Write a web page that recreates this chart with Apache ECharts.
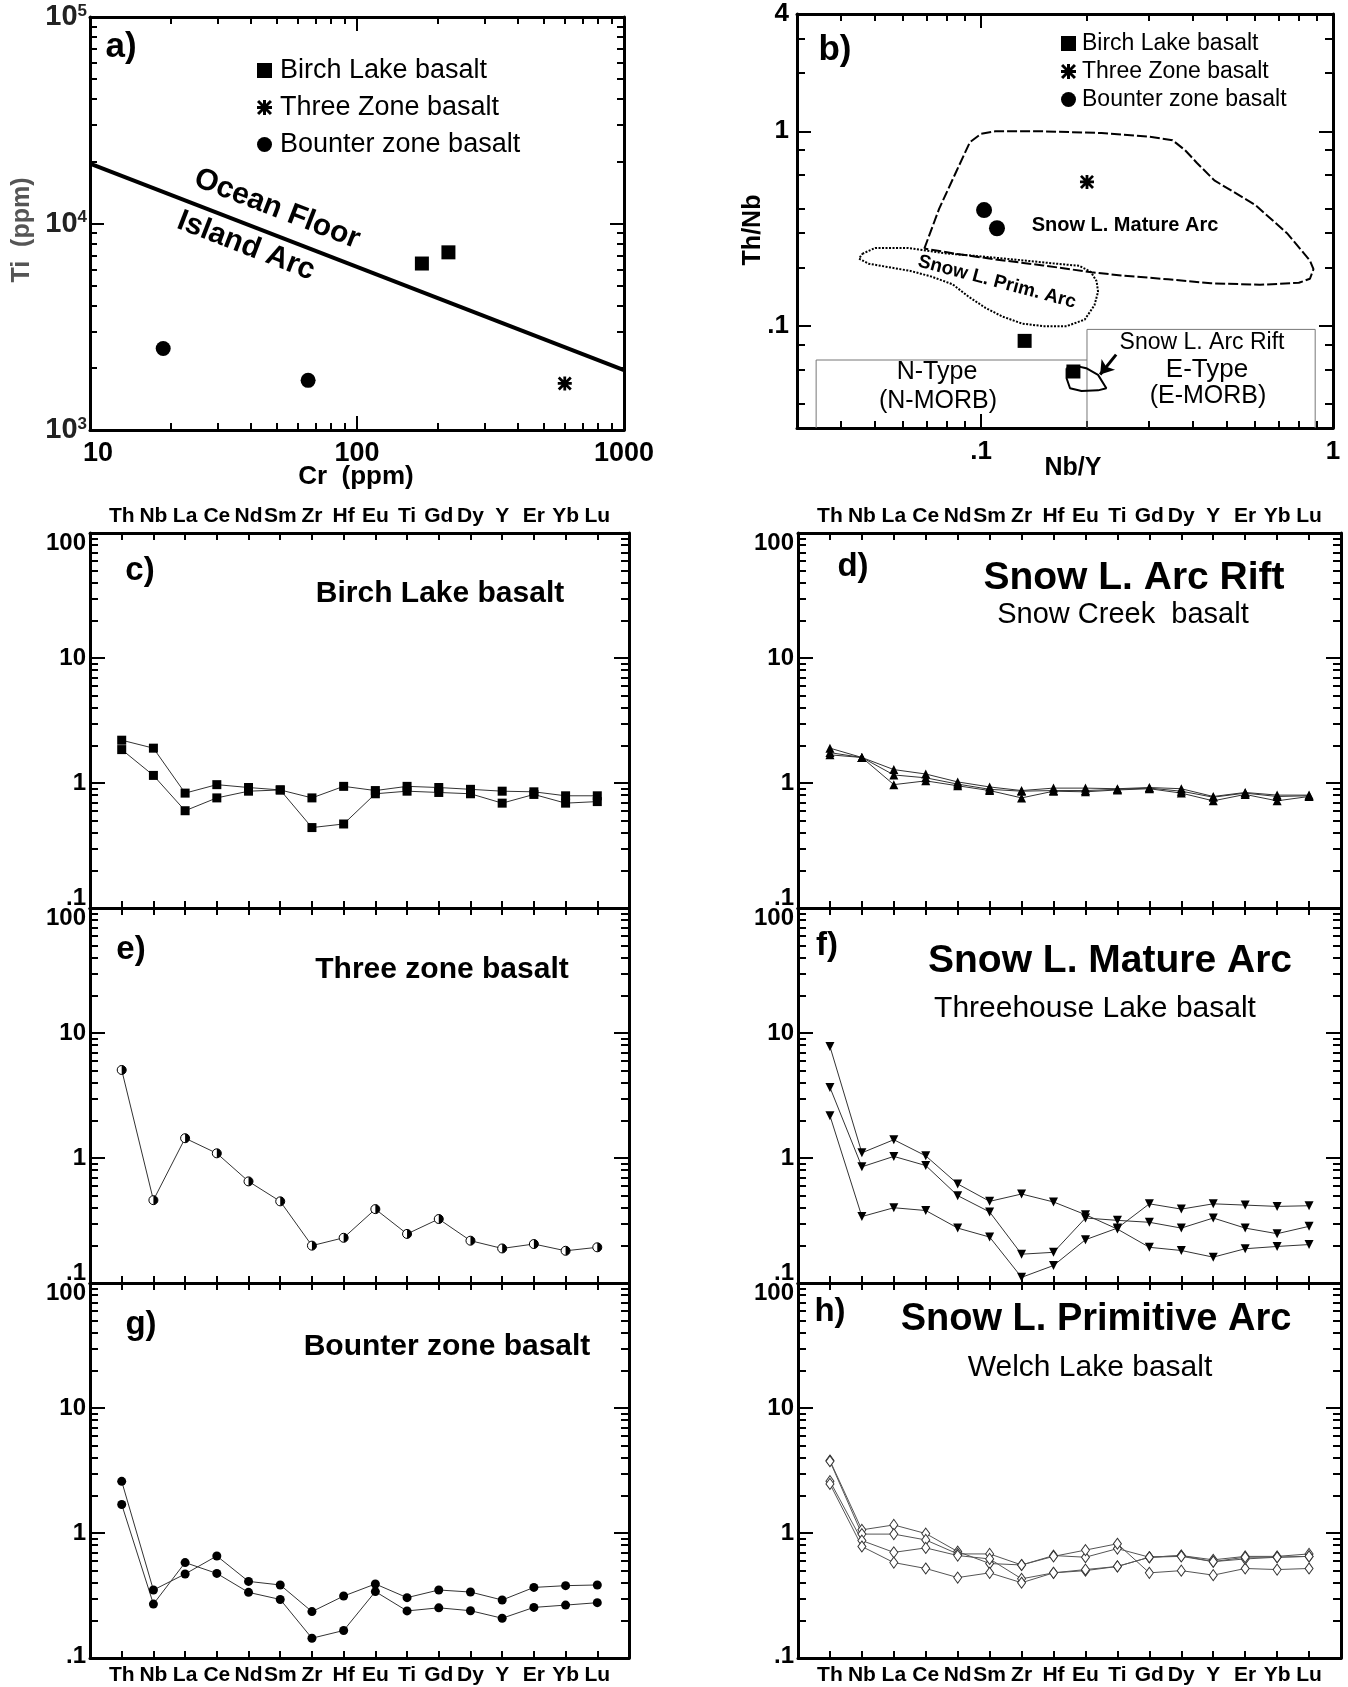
<!DOCTYPE html>
<html>
<head>
<meta charset="utf-8">
<title>Basalt discrimination and spider diagrams</title>
<script src="https://cdn.jsdelivr.net/npm/echarts@6/dist/echarts.min.js"></script>
<style>
  html, body { margin: 0; padding: 0; background: #fff; }
  #chart { width: 1348px; height: 1687px; }
</style>
</head>
<body>
<div id="chart"></div>
<script>
// ---------- data ----------
const elements = ['Th', 'Nb', 'La', 'Ce', 'Nd', 'Sm', 'Zr', 'Hf', 'Eu', 'Ti', 'Gd', 'Dy', 'Y', 'Er', 'Yb', 'Lu'];

// a) Ti (ppm) vs Cr (ppm)
const aBirchCr = [175, 220];
const aBirchTi = [6400, 7250];
const aThreeCr = [600];
const aThreeTi = [1680];
const aBounterCr = [18.8, 65.6];
const aBounterTi = [2480, 1740];
const aBoundaryCr = [10, 1000];
const aBoundaryTi = [19500, 1950];

// b) Th/Nb vs Nb/Y
const bBirchNbY = [0.133, 0.183];
const bBirchThNb = [0.084, 0.0585];
const bThreeNbY = [0.2];
const bThreeThNb = [0.55];
const bBounterNbY = [0.102, 0.111];
const bBounterThNb = [0.394, 0.318];

// fields in b) as [Nb/Y, Th/Nb]
const matureArcField = [[0.069, 0.25], [0.076, 0.4], [0.085, 0.62], [0.093, 0.88], [0.1, 0.97], [0.11, 1.0], [0.15, 1.0],
  [0.22, 0.98], [0.3, 0.94], [0.35, 0.9], [0.38, 0.8], [0.41, 0.69], [0.46, 0.56], [0.6, 0.42], [0.74, 0.3], [0.86, 0.217],
  [0.88, 0.196], [0.86, 0.175], [0.8, 0.167], [0.62, 0.163], [0.45, 0.166], [0.34, 0.174], [0.25, 0.182], [0.206, 0.189],
  [0.15, 0.205], [0.11, 0.22], [0.085, 0.235], [0.069, 0.25]];
const primArcField = [[0.046, 0.235], [0.05, 0.252], [0.062, 0.252], [0.08, 0.236], [0.1, 0.228], [0.13, 0.218], [0.16, 0.21],
  [0.19, 0.204], [0.205, 0.19], [0.213, 0.17], [0.215, 0.15], [0.21, 0.128], [0.197, 0.108], [0.175, 0.1], [0.15, 0.1],
  [0.131, 0.103], [0.115, 0.112], [0.103, 0.124], [0.092, 0.142], [0.083, 0.164], [0.072, 0.18], [0.063, 0.192],
  [0.048, 0.209], [0.045, 0.222], [0.046, 0.235]];
const arcRiftField = [[0.175, 0.0608], [0.186, 0.0625], [0.199, 0.0608], [0.215, 0.0562], [0.227, 0.048], [0.215, 0.0468],
  [0.193, 0.0465], [0.179, 0.048], [0.175, 0.054], [0.175, 0.0608]];
const arcRiftArrow = [[0.242, 0.0714], [0.218, 0.0565]];
const nTypeBox = [[0.034, 0.03], [0.034, 0.067], [0.2, 0.067]];
const eTypeBox = [[0.2, 0.03], [0.2, 0.0962], [0.89, 0.0962], [0.89, 0.03]];

// c) Birch Lake basalt
const cBirch1 = [2.2, 1.9, 0.83, 0.97, 0.92, 0.88, 0.76, 0.94, 0.87, 0.94, 0.92, 0.89, 0.86, 0.85, 0.79, 0.79];
const cBirch2 = [1.85, 1.15, 0.6, 0.76, 0.86, 0.88, 0.44, 0.47, 0.82, 0.86, 0.84, 0.82, 0.69, 0.81, 0.69, 0.71];
// d) Snow Creek basalt
const dSnow1 = [1.9, 1.6, 1.28, 1.18, 1.02, 0.93, 0.87, 0.91, 0.91, 0.9, 0.92, 0.9, 0.78, 0.84, 0.8, 0.8];
const dSnow2 = [1.75, 1.6, 1.16, 1.1, 0.98, 0.89, 0.86, 0.87, 0.87, 0.89, 0.91, 0.86, 0.77, 0.83, 0.78, 0.79];
const dSnow3 = [1.68, 1.6, 0.97, 1.04, 0.95, 0.87, 0.76, 0.86, 0.85, 0.88, 0.9, 0.83, 0.72, 0.81, 0.72, 0.78];
// e) Three zone basalt
const eThree = [5.06, 0.46, 1.44, 1.09, 0.65, 0.45, 0.199, 0.23, 0.39, 0.247, 0.325, 0.218, 0.189, 0.205, 0.181, 0.193];
// f) Threehouse Lake basalt
const fThree1 = [7.8, 1.1, 1.4, 1.04, 0.62, 0.45, 0.515, 0.445, 0.352, 0.27, 0.193, 0.182, 0.161, 0.188, 0.196, 0.203];
const fThree2 = [3.67, 0.85, 1.03, 0.87, 0.5, 0.37, 0.17, 0.176, 0.331, 0.317, 0.306, 0.275, 0.331, 0.275, 0.248, 0.284];
const fThree3 = [2.18, 0.34, 0.4, 0.38, 0.275, 0.233, 0.111, 0.138, 0.222, 0.275, 0.43, 0.39, 0.43, 0.42, 0.41, 0.415];
// g) Bounter zone basalt
const gBounter1 = [2.59, 0.35, 0.47, 0.655, 0.41, 0.384, 0.235, 0.313, 0.391, 0.304, 0.35, 0.337, 0.291, 0.367, 0.379, 0.384];
const gBounter2 = [1.69, 0.27, 0.58, 0.475, 0.335, 0.294, 0.144, 0.166, 0.34, 0.238, 0.252, 0.239, 0.208, 0.254, 0.265, 0.277];
// h) Welch Lake basalt
const hWelch1 = [3.8, 1.06, 1.16, 0.99, 0.71, 0.57, 0.555, 0.66, 0.64, 0.75, 0.64, 0.66, 0.61, 0.65, 0.65, 0.68];
const hWelch2 = [3.75, 0.98, 0.98, 0.88, 0.68, 0.68, 0.555, 0.65, 0.73, 0.82, 0.48, 0.5, 0.46, 0.52, 0.51, 0.52];
const hWelch3 = [2.6, 0.87, 0.7, 0.76, 0.66, 0.62, 0.43, 0.48, 0.5, 0.54, 0.64, 0.66, 0.59, 0.62, 0.64, 0.65];
const hWelch4 = [2.47, 0.78, 0.58, 0.52, 0.44, 0.48, 0.4, 0.48, 0.51, 0.54, 0.64, 0.65, 0.59, 0.64, 0.64, 0.65];

// ---------- helpers ----------
const FONT = '"Liberation Sans", Arial, Helvetica, sans-serif';
const STAR = 'path://M4,0 H6 V10 H4 Z M0,4 H10 V6 H0 Z M1.4,0 L10,8.6 L8.6,10 L0,1.4 Z M8.6,0 L10,1.4 L1.4,10 L0,8.6 Z';
const HALF = 'path://M5,0 A5,5 0 0,1 5,10 Z M0,5 L0.2,5.2 L0,5.4 Z';

const chart = echarts.init(document.getElementById('chart'));
const grids = [], xAxes = [], yAxes = [], series = [], graphics = [];

function logTicks(lo, hi, ks) {
  const out = [];
  for (let e = Math.floor(Math.log10(lo)); e <= Math.ceil(Math.log10(hi)); e++) {
    for (const k of ks) {
      const v = Number((k * Math.pow(10, e)).toPrecision(8));
      if (v >= lo * 0.999 && v <= hi * 1.001) out.push(v);
    }
  }
  return out;
}
const MINOR = [2, 3, 4, 5, 6, 7, 8, 9];
const pairs = (xs, ys) => xs.map((x, i) => [x, ys[i]]);
const solid = { color: '#000', opacity: 1 };

function addAxis(list, gi, pos, sc, ticks, len, withLine, label) {
  const ax = {
    gridIndex: gi, type: sc.type, position: pos, min: sc.min, max: sc.max,
    axisLine: { show: withLine, onZero: false, lineStyle: { color: '#000', width: 3 } },
    axisTick: { show: ticks.length > 0, inside: true, length: len, customValues: ticks, lineStyle: { color: '#000', width: 2 } },
    axisLabel: label ? Object.assign({ show: true, fontFamily: FONT, color: '#000', fontWeight: 'bold' }, label) : { show: false },
    splitLine: { show: false }, minorTick: { show: false }, minorSplitLine: { show: false },
    axisPointer: { show: false }, silent: true
  };
  if (sc.type === 'log') ax.logBase = 10;
  list.push(ax);
  return list.length - 1;
}

function addPanel(box, xs, ys) {
  const gi = grids.push({ left: box[0], top: box[1], width: box[2], height: box[3],
    containLabel: false, outerBoundsMode: 'none' }) - 1;
  const xi = addAxis(xAxes, gi, 'bottom', xs, xs.major, xs.majorLen, true, xs.bottomLabel);
  if (xs.minor.length) addAxis(xAxes, gi, 'bottom', xs, xs.minor, xs.minorLen, false);
  addAxis(xAxes, gi, 'top', xs, xs.major, xs.majorLen, true, xs.topLabel);
  if (xs.minor.length) addAxis(xAxes, gi, 'top', xs, xs.minor, xs.minorLen, false);
  const yi = addAxis(yAxes, gi, 'left', ys, ys.major, ys.majorLen, true, ys.leftLabel);
  addAxis(yAxes, gi, 'left', ys, ys.minor, ys.minorLen, false);
  addAxis(yAxes, gi, 'right', ys, ys.major, ys.majorLen, true);
  addAxis(yAxes, gi, 'right', ys, ys.minor, ys.minorLen, false);
  return { xi, yi };
}

function text(t, x, y, font, opts) {
  graphics.push(Object.assign({
    type: 'text', x, y, z: 100, silent: true,
    style: { text: t, font: font + ' ' + FONT, fill: (opts && opts.fill) || '#000',
      textAlign: 'center', textVerticalAlign: 'middle', align: 'center', verticalAlign: 'middle' }
  }, opts && opts.rotation !== undefined ? { rotation: opts.rotation } : {}));
}

// ---------- a) Ti vs Cr ----------
const aTick = { fontSize: 27, fontWeight: 'bold', fontFamily: FONT, color: '#000' };
const pa = addPanel([90, 17, 534, 413],
  { type: 'log', min: 10, max: 1000, major: logTicks(10, 1000, [1]), minor: logTicks(10, 1000, MINOR), majorLen: 14, minorLen: 7,
    bottomLabel: { customValues: [10, 100, 1000], margin: 10,
      formatter: v => (v < 50 ? '{first|10}' : '{n|' + Math.round(v) + '}'),
      rich: { n: aTick, first: Object.assign({ padding: [0, 0, 0, 16] }, aTick) } } },
  { type: 'log', min: 1000, max: 100000, major: logTicks(1000, 100000, [1]), minor: logTicks(1000, 100000, MINOR), majorLen: 14, minorLen: 7,
    leftLabel: { customValues: [1000, 10000, 100000], margin: 3,
      formatter: v => '{b|10}{s|' + Math.round(Math.log10(v)) + '}',
      rich: { b: { fontSize: 29, fontWeight: 'bold', fontFamily: FONT, color: '#222', verticalAlign: 'bottom' },
              s: { fontSize: 17, fontFamily: FONT, color: '#222', verticalAlign: 'top' } } } });

series.push({ type: 'line', xAxisIndex: pa.xi, yAxisIndex: pa.yi, data: pairs(aBoundaryCr, aBoundaryTi),
  symbol: 'none', lineStyle: { color: '#000', width: 4 }, z: 2 });
series.push({ name: 'Birch Lake basalt', type: 'scatter', xAxisIndex: pa.xi, yAxisIndex: pa.yi,
  data: pairs(aBirchCr, aBirchTi), symbol: 'rect', symbolSize: 14, itemStyle: solid, z: 3 });
series.push({ name: 'Three Zone basalt', type: 'scatter', xAxisIndex: pa.xi, yAxisIndex: pa.yi,
  data: pairs(aThreeCr, aThreeTi), symbol: STAR, symbolSize: 14, itemStyle: solid, z: 3 });
series.push({ name: 'Bounter zone basalt', type: 'scatter', xAxisIndex: pa.xi, yAxisIndex: pa.yi,
  data: pairs(aBounterCr, aBounterTi), symbol: 'circle', symbolSize: 15, itemStyle: solid, z: 3 });

text('a)', 121, 47, 'bold 35px');
text('Ocean Floor', 277, 209, 'bold 30px', { rotation: -0.37 });
text('Island Arc', 246, 246, 'bold 30px', { rotation: -0.37 });
text('Ti  (ppm)', 22, 230, 'bold 25px', { rotation: Math.PI / 2, fill: '#555' });
text('Cr  (ppm)', 356, 477, 'bold 26px');

// ---------- b) Th/Nb vs Nb/Y ----------
const pb = addPanel([797, 14, 536, 414],
  { type: 'log', min: 0.03, max: 1, major: [0.1, 1], minor: logTicks(0.03, 1, MINOR), majorLen: 14, minorLen: 7,
    bottomLabel: { customValues: [0.1, 1], formatter: v => (v > 0.5 ? '1' : '.1'), fontSize: 26, margin: 11 } },
  { type: 'log', min: 0.03, max: 4, major: [0.1, 1], minor: [0.04, 0.06, 0.08, 0.2, 0.3, 0.4, 0.6, 0.8, 2, 3, 4], majorLen: 14, minorLen: 8,
    leftLabel: { customValues: [0.1, 1, 4], formatter: v => (v > 2 ? '4' : v > 0.5 ? '1' : '.1'), fontSize: 26, margin: 8 } });

const fieldLine = (data, style) => ({ type: 'line', xAxisIndex: pb.xi, yAxisIndex: pb.yi, data, symbol: 'none',
  showSymbol: false, lineStyle: Object.assign({ color: '#000' }, style), z: 2 });
series.push(fieldLine(nTypeBox, { color: '#777', width: 1 }));
series.push(fieldLine(eTypeBox, { color: '#777', width: 1 }));
series.push(fieldLine(matureArcField, { width: 2, type: [10, 3] }));
series.push(fieldLine(primArcField, { width: 2, type: [2, 1.5] }));
const rift = fieldLine(arcRiftField, { width: 2 });
rift.markLine = { silent: true, symbol: ['none', 'arrow'], symbolSize: 13, label: { show: false },
  lineStyle: { color: '#000', width: 3, type: 'solid' },
  data: [[{ coord: arcRiftArrow[0] }, { coord: arcRiftArrow[1] }]] };
series.push(rift);

series.push({ name: 'Birch Lake basalt', type: 'scatter', xAxisIndex: pb.xi, yAxisIndex: pb.yi,
  data: pairs(bBirchNbY, bBirchThNb), symbol: 'rect', symbolSize: 14, itemStyle: solid, z: 3 });
series.push({ name: 'Three Zone basalt', type: 'scatter', xAxisIndex: pb.xi, yAxisIndex: pb.yi,
  data: pairs(bThreeNbY, bThreeThNb), symbol: STAR, symbolSize: 14, itemStyle: solid, z: 3 });
series.push({ name: 'Bounter zone basalt', type: 'scatter', xAxisIndex: pb.xi, yAxisIndex: pb.yi,
  data: pairs(bBounterNbY, bBounterThNb), symbol: 'circle', symbolSize: 16, itemStyle: solid, z: 3 });

text('b)', 835, 50, 'bold 35px');
text('Th/Nb', 753, 230, 'bold 25px', { rotation: Math.PI / 2 });
text('Nb/Y', 1073, 468, 'bold 25px');
text('Snow L. Mature Arc', 1125, 225, 'bold 20px');
text('Snow L. Prim. Arc', 997, 282, 'bold 19px', { rotation: -0.26 });
text('Snow L. Arc Rift', 1202, 343, '23px');
text('E-Type', 1207, 370, '26px');
text('(E-MORB)', 1208, 396, '25px');
text('N-Type', 937, 372, '25px');
text('(N-MORB)', 938, 401, '25px');

// ---------- spider diagrams ----------
function spiderY(bottomRow) {
  const n = { fontSize: 24, fontWeight: 'bold', fontFamily: FONT, color: '#000' };
  return { type: 'log', min: 0.1, max: 100, major: [0.1, 1, 10, 100], minor: logTicks(0.1, 100, MINOR), majorLen: 15, minorLen: 8,
    leftLabel: { customValues: [0.1, 1, 10, 100], margin: 4,
      formatter: v => (v > 50 ? '{hi|100}' : v > 5 ? '{n|10}' : v > 0.5 ? '{n|1}' : '{lo|.1}'),
      rich: { n, hi: Object.assign({ padding: [20, 0, 0, 0] }, n),
              lo: Object.assign({ padding: [0, 0, bottomRow ? 4 : 20, 0] }, n) } } };
}
function spiderX(where) {
  const lab = { customValues: elements.map((_, i) => i), formatter: v => elements[Math.round(v)] || '', fontSize: 21, margin: 6 };
  return { type: 'value', min: -1, max: 16, major: elements.map((_, i) => i), minor: [], majorLen: 7,
    topLabel: where === 'top' ? lab : null, bottomLabel: where === 'bottom' ? Object.assign({}, lab, { margin: 7 }) : null };
}
function spider(p, rows, sym) {
  rows.forEach(vals => series.push(Object.assign({
    type: 'line', xAxisIndex: p.xi, yAxisIndex: p.yi, data: vals.map((v, i) => [i, v]),
    lineStyle: { color: '#333', width: 1 }, symbolSize: 8, itemStyle: solid, z: 3
  }, sym)));
}

const LEFT = [90, 539], RIGHT = [798, 543], TOPS = [533, 908, 1283], PH = 375;
const pc = addPanel([LEFT[0], TOPS[0], LEFT[1], PH], spiderX('top'), spiderY(false));
const pd = addPanel([RIGHT[0], TOPS[0], RIGHT[1], PH], spiderX('top'), spiderY(false));
const pe = addPanel([LEFT[0], TOPS[1], LEFT[1], PH], spiderX(null), spiderY(false));
const pf = addPanel([RIGHT[0], TOPS[1], RIGHT[1], PH], spiderX(null), spiderY(false));
const pg = addPanel([LEFT[0], TOPS[2], LEFT[1], PH], spiderX('bottom'), spiderY(true));
const ph = addPanel([RIGHT[0], TOPS[2], RIGHT[1], PH], spiderX('bottom'), spiderY(true));

spider(pc, [cBirch1, cBirch2], { symbol: 'rect', symbolSize: 9 });
spider(pd, [dSnow1, dSnow2, dSnow3], { symbol: 'triangle', symbolSize: 9 });
spider(pe, [eThree], { symbol: 'circle', symbolSize: 9, itemStyle: { color: '#fff', borderColor: '#000', borderWidth: 1, opacity: 1 } });
series.push({ type: 'scatter', xAxisIndex: pe.xi, yAxisIndex: pe.yi, data: eThree.map((v, i) => [i, v]),
  symbol: HALF, symbolSize: 9, itemStyle: solid, z: 4 });
spider(pf, [fThree1, fThree2, fThree3], { symbol: 'triangle', symbolRotate: 180, symbolSize: 9 });
spider(pg, [gBounter1, gBounter2], { symbol: 'circle', symbolSize: 9 });
spider(ph, [hWelch1, hWelch2, hWelch3, hWelch4], { symbol: 'diamond', symbolSize: [8, 11],
  lineStyle: { color: '#555', width: 1 }, itemStyle: { color: '#fff', borderColor: '#333', borderWidth: 1, opacity: 1 } });

text('c)', 140, 571, 'bold 33px');
text('Birch Lake basalt', 440, 594, 'bold 30px');
text('d)', 853, 567, 'bold 33px');
text('Snow L. Arc Rift', 1134, 578, 'bold 39px');
text('Snow Creek  basalt', 1123, 615, '29px');
text('e)', 131, 950, 'bold 33px');
text('Three zone basalt', 442, 970, 'bold 30px');
text('f)', 827, 946, 'bold 33px');
text('Snow L. Mature Arc', 1110, 961, 'bold 39px');
text('Threehouse Lake basalt', 1095, 1009, '30px');
text('g)', 141, 1325, 'bold 33px');
text('Bounter zone basalt', 447, 1347, 'bold 30px');
text('h)', 830, 1312, 'bold 33px');
text('Snow L. Primitive Arc', 1096, 1320, 'bold 38px');
text('Welch Lake basalt', 1090, 1368, '30px');

const legendNames = ['Birch Lake basalt', 'Three Zone basalt', 'Bounter zone basalt'];

chart.setOption({
  animation: false,
  backgroundColor: '#fff',
  grid: grids,
  xAxis: xAxes,
  yAxis: yAxes,
  legend: [
    { left: 252, top: 52, orient: 'vertical', itemGap: 10, itemWidth: 15, itemHeight: 15, selectedMode: false,
      data: legendNames, textStyle: { fontSize: 27, fontFamily: FONT, color: '#000', padding: [0, 0, 0, 3] } },
    { left: 1056, top: 27, orient: 'vertical', itemGap: 5, itemWidth: 15, itemHeight: 15, selectedMode: false,
      data: legendNames, textStyle: { fontSize: 23, fontFamily: FONT, color: '#000', padding: [0, 0, 0, 1] } }
  ],
  series,
  graphic: graphics
});
</script>
</body>
</html>
